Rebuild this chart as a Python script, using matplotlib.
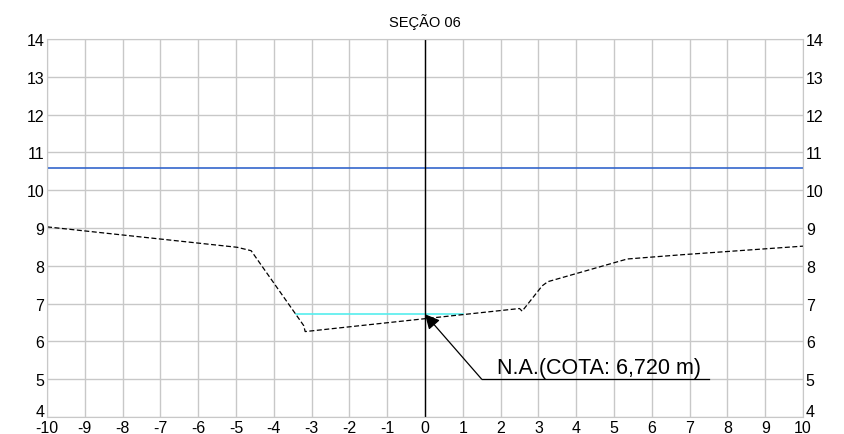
import matplotlib
matplotlib.use('Agg')
import matplotlib.pyplot as plt
import matplotlib.transforms as mtransforms

plt.rcParams['font.family'] = ['Liberation Sans', 'DejaVu Sans']
plt.rcParams['axes.unicode_minus'] = False

# terrain profile of the section
perfil_x = [-10, -4.97, -4.60, -3.21, -3.17, 2.50, 2.57, 3.10, 3.25, 5.35, 6.76, 10]
perfil_y = [9.03, 8.49, 8.40, 6.42, 6.26, 6.87, 6.80, 7.47, 7.58, 8.18, 8.29, 8.52]

na_cota = 6.72
na_x = [-3.42, 1.0]
linha_azul = 10.58

xticks = list(range(-10, 11))
yticks = list(range(4, 15))

fig = plt.figure(figsize=(8.45, 4.35), dpi=100)
ax = fig.add_axes([47/845, 17/435, 756/845, 378/435])

ax.set_xlim(-10, 10)
ax.set_ylim(4, 14)
ax.set_xticks(xticks)
ax.set_yticks(yticks)
ax.grid(True, color='#c8c8c8', linewidth=1)
ax.set_axisbelow(True)
for s in ax.spines.values():
    s.set_color('#c8c8c8')
ax.tick_params(length=0, labelsize=11.5, pad=2, labelright=True, right=True)

# lift the bottom "4" a bit so it sits above the x labels
lift = mtransforms.ScaledTranslation(0, 5/72, fig.dpi_scale_trans)
t0 = ax.yaxis.get_major_ticks()[0]
t0.label1.set_transform(t0.label1.get_transform() + lift)
t0.label2.set_transform(t0.label2.get_transform() + lift)

ax.axhline(linha_azul, color='#3366cc', linewidth=1.2)
ax.plot(na_x, [na_cota, na_cota], color='#55eeee', linewidth=1.2)
ax.plot(perfil_x, perfil_y, color='black', linewidth=0.9, dashes=(4, 2))
ax.axvline(0, color='black', linewidth=1)

# annotation
ax.plot([1.5, 7.5], [5.0, 5.0], color='black', linewidth=0.9)
ax.annotate('', xy=(0, na_cota), xytext=(1.5, 5.0),
            arrowprops=dict(arrowstyle='-|>', color='black', lw=0.9,
                            mutation_scale=22, shrinkA=0, shrinkB=0))
ax.text(1.9, 5.03, 'N.A.(COTA: 6,720 m)', fontsize=15.5, ha='left', va='bottom')

ax.set_title('SEÇÃO 06', fontsize=10.5, pad=9)

fig.savefig('out.png', dpi=100)
